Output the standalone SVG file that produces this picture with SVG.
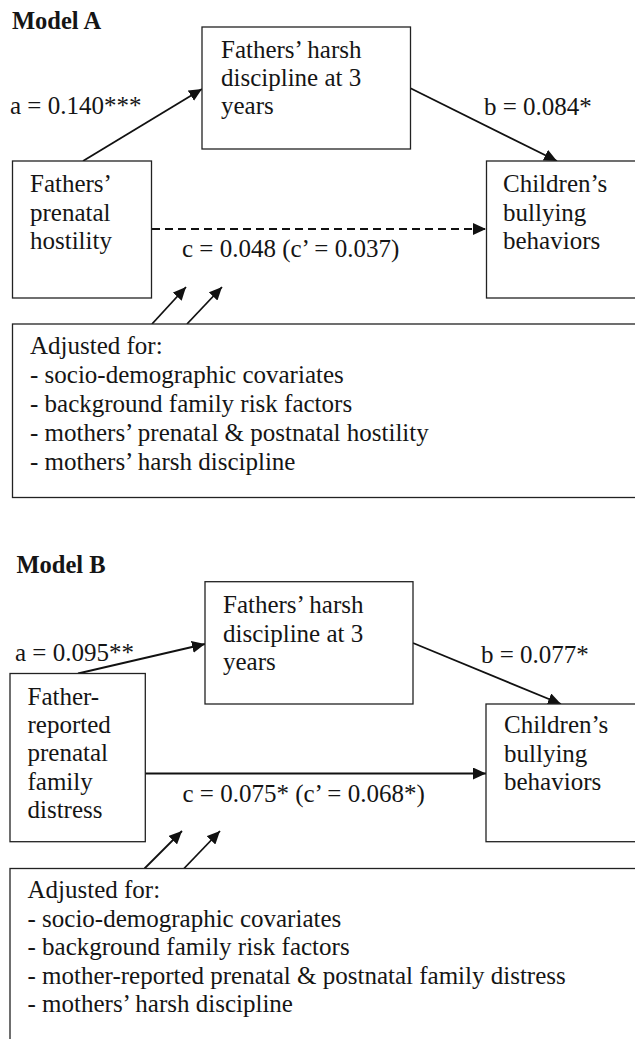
<svg xmlns="http://www.w3.org/2000/svg" width="635" height="1039" viewBox="0 0 635 1039">
<style>
text{font-family:'Liberation Serif',Tinos,'Times New Roman',Times,'Noto Serif','DejaVu Serif',serif;font-size:25px;fill:#151515}
.title{font-weight:bold;font-size:24.5px}
.box{fill:#fff;stroke:#222;stroke-width:1.3}
.ln{stroke:#111;stroke-width:1.8;fill:none}
.dash{stroke-dasharray:8 5}
</style>
<defs>
<marker id="ah" viewBox="0 0 13 12" refX="13" refY="6" markerWidth="13" markerHeight="12" markerUnits="userSpaceOnUse" orient="auto">
<path d="M0,0 L13,6 L0,12 Z" fill="#111"/>
</marker>
</defs>
<rect width="635" height="1039" fill="#fff"/>

<text class="title" x="12" y="29">Model A</text>

<g id="connectorsA">
<line class="ln" x1="83" y1="161" x2="202" y2="89" marker-end="url(#ah)"/>
<line class="ln" x1="410" y1="88" x2="557" y2="161" marker-end="url(#ah)"/>
<line class="ln dash" x1="152" y1="229" x2="486" y2="229" marker-end="url(#ah)"/>
<line class="ln" x1="152" y1="324" x2="186" y2="287" marker-end="url(#ah)"/>
<line class="ln" x1="187" y1="324" x2="222" y2="287" marker-end="url(#ah)"/>
<text x="10" y="114">a = 0.140***</text>
<text x="484" y="115">b = 0.084*</text>
<text x="182" y="257">c = 0.048 (c’ = 0.037)</text>
</g>

<g id="mediatorA">
<rect class="box" x="202" y="27" width="208.5" height="122"/>
<text x="221" y="58">Fathers’ harsh</text>
<text x="221" y="86">discipline at 3</text>
<text x="221" y="114">years</text>
</g>

<g id="predictorA">
<rect class="box" x="12.5" y="161" width="139" height="137"/>
<text x="30" y="192">Fathers’</text>
<text x="30" y="220.5">prenatal</text>
<text x="30" y="249">hostility</text>
</g>

<g id="outcomeA">
<rect class="box" x="486.5" y="161" width="160" height="137"/>
<text x="503" y="192">Children’s</text>
<text x="503" y="220.5">bullying</text>
<text x="503" y="249">behaviors</text>
</g>

<g id="covariatesA">
<rect class="box" x="12.5" y="324" width="640" height="173.5"/>
<text x="30" y="354">Adjusted for:</text>
<text x="30" y="383">- socio-demographic covariates</text>
<text x="30" y="412">- background family risk factors</text>
<text x="30" y="441">- mothers’ prenatal &amp; postnatal hostility</text>
<text x="30" y="470">- mothers’ harsh discipline</text>
</g>

<text class="title" x="16.5" y="573">Model B</text>

<g id="connectorsB">
<line class="ln" x1="78" y1="673.5" x2="205" y2="644" marker-end="url(#ah)"/>
<line class="ln" x1="413" y1="643" x2="561" y2="704" marker-end="url(#ah)"/>
<line class="ln" x1="145" y1="773.5" x2="486" y2="773.5" marker-end="url(#ah)"/>
<line class="ln" x1="144.5" y1="868.5" x2="182" y2="831" marker-end="url(#ah)"/>
<line class="ln" x1="184" y1="868.5" x2="220" y2="831" marker-end="url(#ah)"/>
<text x="15" y="660.5">a = 0.095**</text>
<text x="481" y="663">b = 0.077*</text>
<text x="182.5" y="802">c = 0.075* (c’ = 0.068*)</text>
</g>

<g id="mediatorB">
<rect class="box" x="205" y="581.7" width="208" height="122.3"/>
<text x="223" y="613">Fathers’ harsh</text>
<text x="223" y="641.5">discipline at 3</text>
<text x="223" y="670">years</text>
</g>

<g id="predictorB">
<rect class="box" x="10" y="673.5" width="135.3" height="168.2"/>
<text x="27.5" y="705">Father-</text>
<text x="27.5" y="733">reported</text>
<text x="27.5" y="761">prenatal</text>
<text x="27.5" y="789.5">family</text>
<text x="27.5" y="818">distress</text>
</g>

<g id="outcomeB">
<rect class="box" x="486" y="704" width="160" height="137.7"/>
<text x="504" y="733">Children’s</text>
<text x="504" y="761.5">bullying</text>
<text x="504" y="790">behaviors</text>
</g>

<g id="covariatesB">
<rect class="box" x="10" y="868.5" width="640" height="190"/>
<text x="27.5" y="898">Adjusted for:</text>
<text x="27.5" y="926.5">- socio-demographic covariates</text>
<text x="27.5" y="955">- background family risk factors</text>
<text x="27.5" y="984">- mother-reported prenatal &amp; postnatal family distress</text>
<text x="27.5" y="1012">- mothers’ harsh discipline</text>
</g>
</svg>
